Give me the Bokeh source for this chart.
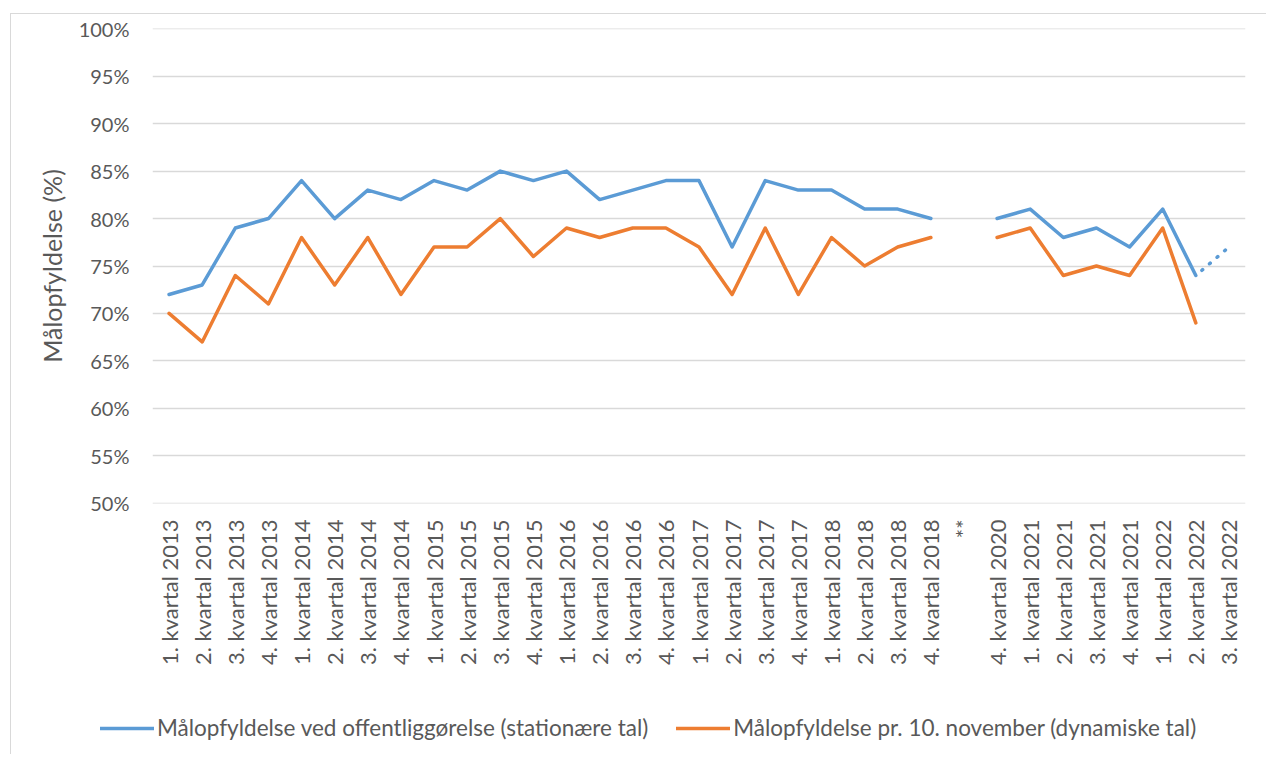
import math
from bokeh.plotting import figure
from bokeh.layouts import column, row
from bokeh.models import (ColumnDataSource, FactorRange, Range1d, FixedTicker,
                          PrintfTickFormatter, Legend, LegendItem)
from bokeh.embed import file_html
from bokeh.resources import INLINE

nan = float("nan")

categories = [
    "1. kvartal 2013", "2. kvartal 2013", "3. kvartal 2013", "4. kvartal 2013",
    "1. kvartal 2014", "2. kvartal 2014", "3. kvartal 2014", "4. kvartal 2014",
    "1. kvartal 2015", "2. kvartal 2015", "3. kvartal 2015", "4. kvartal 2015",
    "1. kvartal 2016", "2. kvartal 2016", "3. kvartal 2016", "4. kvartal 2016",
    "1. kvartal 2017", "2. kvartal 2017", "3. kvartal 2017", "4. kvartal 2017",
    "1. kvartal 2018", "2. kvartal 2018", "3. kvartal 2018", "4. kvartal 2018",
    "**",
    "4. kvartal 2020",
    "1. kvartal 2021", "2. kvartal 2021", "3. kvartal 2021", "4. kvartal 2021",
    "1. kvartal 2022", "2. kvartal 2022", "3. kvartal 2022",
]

# Målopfyldelse ved offentliggørelse (stationære tal), %
stationaer = [72, 73, 79, 80, 84, 80, 83, 82, 84, 83, 85, 84, 85, 82, 83, 84,
              84, 77, 84, 83, 83, 81, 81, 80, nan, 80, 81, 78, 79, 77, 81, 74, 77]
# Målopfyldelse pr. 10. november (dynamiske tal), %
dynamisk = [70, 67, 74, 71, 78, 73, 78, 72, 77, 77, 80, 76, 79, 78, 79, 79,
            77, 72, 79, 72, 78, 75, 77, 78, nan, 78, 79, 74, 75, 74, 79, 69, nan]

y_ticks = [50, 55, 60, 65, 70, 75, 80, 85, 90, 95, 100]

series_labels = ["Målopfyldelse ved offentliggørelse (stationære tal)",
                 "Målopfyldelse pr. 10. november (dynamiske tal)"]

BLUE = "#5B9BD5"
ORANGE = "#ED7D31"
TXT = "#595959"
GRID = "#D9D9D9"
FONT = "Lato"

W = 1255
HM = 680
HL = 60

p = figure(
    width=W, height=HM,
    x_range=FactorRange(factors=categories),
    y_range=Range1d(49.97, 100.03),
    output_backend="svg", toolbar_location=None,
    min_border_left=141, min_border_right=21,
    min_border_top=14, min_border_bottom=191,
    outline_line_color=None,
)

solid_blue = stationaer[:-1] + [nan]
src_b = ColumnDataSource(dict(x=categories, y=solid_blue))
src_o = ColumnDataSource(dict(x=categories, y=dynamisk))
src_dot = ColumnDataSource(dict(x=categories[-2:], y=stationaer[-2:]))

p.line("x", "y", source=src_b, line_color=BLUE, line_width=3.5,
       line_join="round", line_cap="round")
p.line("x", "y", source=src_dot, line_color=BLUE, line_width=3.5,
       line_cap="round", line_dash="1 9", line_dash_offset=-8)
p.line("x", "y", source=src_o, line_color=ORANGE, line_width=3.5,
       line_join="round", line_cap="round")

p.yaxis.ticker = FixedTicker(ticks=y_ticks)
p.yaxis.formatter = PrintfTickFormatter(format="%d%%")
p.yaxis.axis_line_color = None
p.yaxis.major_tick_line_color = None
p.yaxis.minor_tick_line_color = None
p.yaxis.major_tick_out = 0
p.yaxis.major_tick_in = 0
p.yaxis.minor_tick_out = 0
p.yaxis.major_label_standoff = 23
p.yaxis.major_label_text_font = FONT
p.yaxis.major_label_text_font_size = "20px"
p.yaxis.major_label_text_color = TXT
p.yaxis.axis_label = "Målopfyldelse (%)"
p.yaxis.axis_label_text_font = FONT
p.yaxis.axis_label_text_font_size = "25px"
p.yaxis.axis_label_text_font_style = "normal"
p.yaxis.axis_label_text_color = TXT
p.yaxis.axis_label_standoff = 9

p.xaxis.axis_line_color = None
p.xaxis.major_tick_line_color = None
p.xaxis.minor_tick_line_color = None
p.xaxis.major_tick_out = 0
p.xaxis.major_tick_in = 0
p.xaxis.major_label_orientation = math.pi / 2
p.xaxis.major_label_standoff = 16
p.xaxis.major_label_text_font = FONT
p.xaxis.major_label_text_font_size = "22px"
p.xaxis.major_label_text_color = TXT

p.xgrid.grid_line_color = None
p.ygrid.grid_line_color = GRID
p.ygrid.grid_line_width = 1.5

# legend strip below the chart (proxy renderers carry the legend glyph styles)
q = figure(width=W, height=HL, x_range=Range1d(0, 1), y_range=Range1d(0, 1),
           output_backend="svg", toolbar_location=None,
           x_axis_location=None, y_axis_location=None,
           min_border=0, outline_line_color=None)
q.xgrid.grid_line_color = None
q.ygrid.grid_line_color = None
lb = q.line(x=[0], y=[nan], line_color=BLUE, line_width=3.5, line_cap="round")
lo = q.line(x=[0], y=[nan], line_color=ORANGE, line_width=3.5, line_cap="round")
legend = Legend(
    items=[LegendItem(label=series_labels[0], renderers=[lb]),
           LegendItem(label=series_labels[1], renderers=[lo])],
    orientation="horizontal",
    location=(89, 13),
    padding=0, margin=0, spacing=28,
    glyph_width=54, glyph_height=26, label_standoff=3,
    label_text_font=FONT, label_text_font_size="22.5px", label_text_color=TXT,
    border_line_color=None, background_fill_alpha=0,
)
q.add_layout(legend, "center")

layout = column(p, row(q), spacing=0, margin=(13, 0, 0, 10),
                styles={"border-top": "1px solid #D9D9D9",
                        "border-left": "1px solid #D9D9D9"})

open("out.html", "w").write(file_html(layout, INLINE))
